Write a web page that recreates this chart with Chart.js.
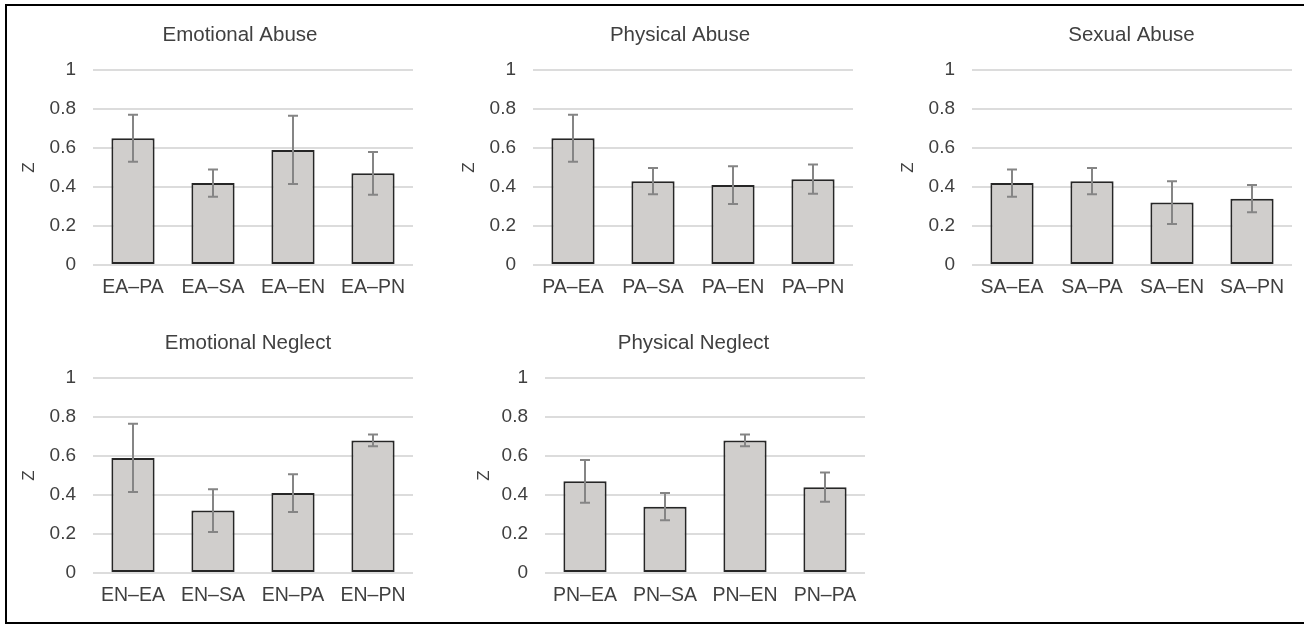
<!DOCTYPE html>
<html>
<head>
<meta charset="utf-8">
<script src="https://cdn.jsdelivr.net/npm/chart.js@4/dist/chart.umd.min.js"></script>
<style>
  html, body { margin:0; padding:0; background:#fff; overflow:hidden; width:1304px; height:624px; }
  #frame { position:absolute; left:5px; top:4px; width:1320px; height:616px; border:2px solid #000; }
  canvas { position:absolute; }
</style>
</head>
<body>
<div id="frame"></div>
<canvas id="c1"></canvas>
<canvas id="c2"></canvas>
<canvas id="c3"></canvas>
<canvas id="c4"></canvas>
<canvas id="c5"></canvas>
<script>
// --- data ---
const titles = ['Emotional Abuse', 'Physical Abuse', 'Sexual Abuse', 'Emotional Neglect', 'Physical Neglect'];

const catsEA = ['EA–PA', 'EA–SA', 'EA–EN', 'EA–PN'];
const zEA    = [0.65, 0.42, 0.59, 0.47];
const errEA  = [0.12, 0.07, 0.175, 0.11];

const catsPA = ['PA–EA', 'PA–SA', 'PA–EN', 'PA–PN'];
const zPA    = [0.65, 0.43, 0.41, 0.44];
const errPA  = [0.12, 0.067, 0.097, 0.075];

const catsSA = ['SA–EA', 'SA–PA', 'SA–EN', 'SA–PN'];
const zSA    = [0.42, 0.43, 0.32, 0.34];
const errSA  = [0.07, 0.067, 0.11, 0.07];

const catsEN = ['EN–EA', 'EN–SA', 'EN–PA', 'EN–PN'];
const zEN    = [0.59, 0.32, 0.41, 0.68];
const errEN  = [0.175, 0.11, 0.097, 0.03];

const catsPN = ['PN–EA', 'PN–SA', 'PN–EN', 'PN–PA'];
const zPN    = [0.47, 0.34, 0.68, 0.44];
const errPN  = [0.11, 0.07, 0.03, 0.075];

const yTicks = [0, 0.2, 0.4, 0.6, 0.8, 1];
const yTitle = 'Z';

// --- panel placement (page px) ---
const AXIS_W = 83, PLOT_W = 320, PLOT_BOTTOM = 257, CANVAS_H = 297;
const panels = [
  { id:'c1', left:10,  top:8,     rightPad:57, zPad:9,  title:titles[0], cats:catsEA, vals:zEA, errs:errEA },
  { id:'c2', left:450, top:8,     rightPad:57, zPad:9,  title:titles[1], cats:catsPA, vals:zPA, errs:errPA },
  { id:'c3', left:889, top:8,     rightPad:82, zPad:9,  title:titles[2], cats:catsSA, vals:zSA, errs:errSA },
  { id:'c4', left:10,  top:315.7, rightPad:73, zPad:9,  title:titles[3], cats:catsEN, vals:zEN, errs:errEN },
  { id:'c5', left:462, top:315.7, rightPad:60, zPad:12, title:titles[4], cats:catsPN, vals:zPN, errs:errPN }
];

const FONT = '"Liberation Sans", Arial, sans-serif';
const TEXT = '#404040';

// error bars drawn from the y scale
const errorBars = {
  id: 'errorBars',
  afterDatasetsDraw(chart, args, opts) {
    const ctx = chart.ctx, y = chart.scales.y;
    const vals = chart.data.datasets[0].data;
    ctx.save();
    ctx.strokeStyle = opts.color;
    ctx.lineWidth = opts.width;
    chart.getDatasetMeta(0).data.forEach((bar, i) => {
      const e = opts.errs[i];
      const top = y.getPixelForValue(vals[i] + e);
      const bot = y.getPixelForValue(vals[i] - e);
      ctx.beginPath();
      ctx.moveTo(bar.x, top); ctx.lineTo(bar.x, bot);
      ctx.moveTo(bar.x - opts.cap, top); ctx.lineTo(bar.x + opts.cap, top);
      ctx.moveTo(bar.x - opts.cap, bot); ctx.lineTo(bar.x + opts.cap, bot);
      ctx.stroke();
    });
    ctx.restore();
  }
};

panels.forEach(p => {
  const cv = document.getElementById(p.id);
  const w = AXIS_W + PLOT_W + p.rightPad;
  cv.width = w; cv.height = CANVAS_H;
  cv.style.left = p.left + 'px'; cv.style.top = p.top + 'px';
  cv.style.width = w + 'px'; cv.style.height = CANVAS_H + 'px';

  new Chart(cv.getContext('2d'), {
    type: 'bar',
    data: { labels: p.cats, datasets: [{
      data: p.vals,
      backgroundColor: '#d0cecc',
      borderColor: '#262626',
      borderWidth: 2,
      borderSkipped: false,
      categoryPercentage: 1,
      barPercentage: 0.54
    }]},
    plugins: [errorBars],
    options: {
      responsive: false, animation: false, devicePixelRatio: 1,
      layout: { padding: 0 },
      plugins: {
        legend: { display: false },
        tooltip: { enabled: false },
        title: { display: true, text: p.title, color: TEXT,
          font: { family: FONT, size: 20.5, weight: 'normal' },
          padding: { top: 15, bottom: 22.4 } },
        errorBars: { errs: p.errs, color: '#858585', width: 2, cap: 5 }
      },
      scales: {
        x: {
          grid: { display: false, drawTicks: false }, border: { display: false },
          ticks: { color: TEXT, font: { family: FONT, size: 19.5 }, padding: 11, maxRotation: 0 },
          afterFit: s => { s.height = CANVAS_H - PLOT_BOTTOM; }
        },
        y: {
          min: 0, max: 1,
          afterBuildTicks: s => { s.ticks = yTicks.map(v => ({ value: v })); },
          grid: { color: '#dcdcdc', lineWidth: 2, drawTicks: false },
          border: { display: false },
          ticks: { color: TEXT, font: { family: FONT, size: 19 }, padding: 17,
            callback: v => String(+v.toFixed(1)) },
          title: { display: true, text: yTitle, color: TEXT,
            font: { family: FONT, size: 17 }, padding: { top: p.zPad, bottom: 0 } },
          afterFit: s => { s.width = AXIS_W; }
        },
        // empty right-hand axis, only to reserve room so the title sits where it does in the figure
        yPad: {
          position: 'right', display: true,
          grid: { display: false }, border: { display: false },
          ticks: { display: false },
          afterFit: s => { s.width = p.rightPad; }
        }
      }
    }
  });
});
</script>
</body>
</html>
